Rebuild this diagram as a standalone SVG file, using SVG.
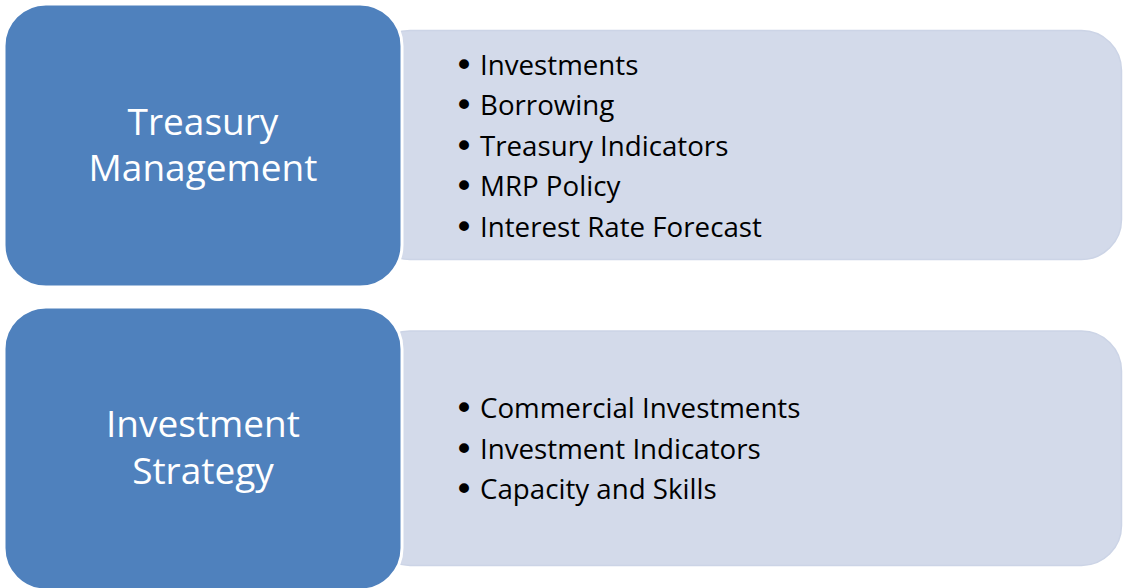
<svg xmlns="http://www.w3.org/2000/svg" width="1123" height="588" viewBox="0 0 1123 588">
<style>
.panel{fill:#D3DAEA;stroke:#CCD4E6;stroke-width:1.5}
.head{fill:#4F81BD;stroke:#FFFFFF;stroke-width:3}
.title{font-family:"Open Sans","Noto Sans",sans-serif;font-size:37px;fill:#FFFFFF;text-anchor:middle}
.item{font-family:"Open Sans","Noto Sans",sans-serif;font-size:27.7px;fill:#000000}
.bul{font-family:"DejaVu Sans",sans-serif;font-size:34px}
</style>
<rect x="0" y="0" width="1123" height="588" fill="#FFFFFF"/>
<g id="treasury-details">
<rect class="panel" x="370" y="30.5" width="751.5" height="229" rx="40" ry="40"/>
<text class="item" y="74.5"><tspan class="bul" x="454" dy="2">•</tspan><tspan x="480" dy="-2">Investments</tspan></text>
<text class="item" y="115"><tspan class="bul" x="454" dy="2">•</tspan><tspan x="480" dy="-2">Borrowing</tspan></text>
<text class="item" y="155.5"><tspan class="bul" x="454" dy="2">•</tspan><tspan x="480" dy="-2">Treasury Indicators</tspan></text>
<text class="item" y="196"><tspan class="bul" x="454" dy="2">•</tspan><tspan x="480" dy="-2">MRP Policy</tspan></text>
<text class="item" y="236.5"><tspan class="bul" x="454" dy="2">•</tspan><tspan x="480" dy="-2">Interest Rate Forecast</tspan></text>
</g>
<g id="treasury-management">
<rect class="head" x="4" y="4" width="398" height="283" rx="42" ry="42"/>
<text class="title" x="203" y="134.5">Treasury</text>
<text class="title" x="203" y="180.5">Management</text>
</g>
<g id="investment-details">
<rect class="panel" x="370" y="331" width="751.5" height="234.5" rx="40" ry="40"/>
<text class="item" y="418"><tspan class="bul" x="454" dy="2">•</tspan><tspan x="480" dy="-2">Commercial Investments</tspan></text>
<text class="item" y="458.5"><tspan class="bul" x="454" dy="2">•</tspan><tspan x="480" dy="-2">Investment Indicators</tspan></text>
<text class="item" y="499"><tspan class="bul" x="454" dy="2">•</tspan><tspan x="480" dy="-2">Capacity and Skills</tspan></text>
</g>
<g id="investment-strategy">
<rect class="head" x="4" y="307" width="398" height="283" rx="42" ry="42"/>
<text class="title" x="203" y="437">Investment</text>
<text class="title" x="203" y="483.5">Strategy</text>
</g>
<g id="connectors"></g>
</svg>
